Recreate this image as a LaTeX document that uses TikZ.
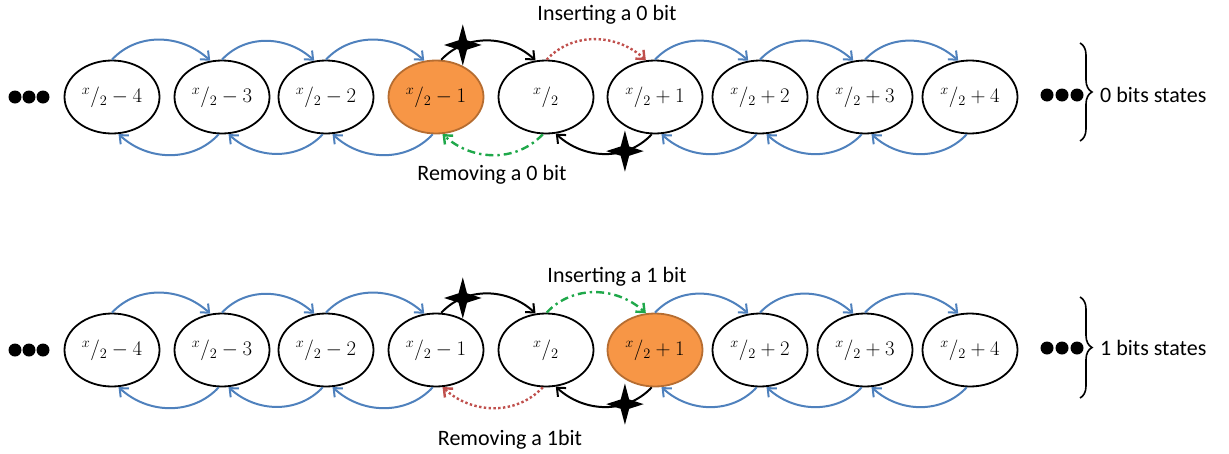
\documentclass[tikz,border=0pt]{standalone}
\usepackage{fontspec}
\setmainfont{Carlito}
\usetikzlibrary{shapes.geometric,arrows.meta,decorations.pathreplacing}

\definecolor{flowblue}{HTML}{4F81BD}
\definecolor{hotorange}{HTML}{F79646}
\definecolor{orangeedge}{HTML}{B66D31}
\definecolor{insred}{HTML}{C0504D}
\definecolor{remgreen}{HTML}{1FA84A}

\tikzset{
  state/.style={ellipse, draw=black, line width=1.8pt, minimum width=95pt,
    minimum height=73pt, inner sep=0pt, font=\fontsize{22}{26}\selectfont},
  hot/.style={state, fill=hotorange, draw=orangeedge},
  barb/.style={-{Straight Barb[length=7pt,width=12pt]}},
  blueflow/.style={barb, draw=flowblue, line width=2pt},
  blackflow/.style={barb, draw=black, line width=2pt},
  redflow/.style={barb, draw=insred, line width=2.4pt, dash pattern=on 2.4pt off 2.4pt},
  greenflow/.style={barb, draw=remgreen, line width=2.4pt,
    dash pattern=on 8pt off 4pt on 2.4pt off 4pt},
  starmark/.style={star, star points=4, star point ratio=0.32, fill=black,
    draw=none, minimum size=12pt, inner sep=0pt, shape border rotate=45,
    yscale=1.1},
  dot/.style={circle, fill=black, minimum size=13pt, inner sep=0pt},
  label/.style={font=\fontsize{22}{26}\selectfont, inner sep=0pt},
  bracket/.style={draw=black, line width=1.6pt, decorate,
    decoration={brace, amplitude=12pt}},
  % upper and lower arcs between neighbouring states
  fwd/.style={out=47, in=137},
  bwd/.style={out=227, in=317}
}

\newcommand{\half}[1]{${}^{x}/_{2}#1$}

\begin{document}
\begin{tikzpicture}[x=1pt, y=1pt]
\useasboundingbox (0,0) rectangle (1229,-453);

% ---------- row of states holding 0 bits ----------
\foreach \i/\x/\t in {1/112/{-4}, 2/222/{-3}, 3/326/{-2}, 5/546/{}, 6/655/{+1},
                      7/760/{+2}, 8/865/{+3}, 9/970/{+4}} {
  \node[state] (t\i) at (\x,-97) {\half{\t}};
}
\node[hot] (t4) at (436,-97) {\half{-1}};

\node[dot] (tl1) at (15,-97) {};
\node[dot] (tl2) at (29,-97) {};
\node[dot] (tl3) at (43,-97) {};
\node[dot] (tr1) at (1047,-95) {};
\node[dot] (tr2) at (1062,-95) {};
\node[dot] (tr3) at (1077,-95) {};
\coordinate (tbA) at (1080,-43);
\coordinate (tbB) at (1080,-141);
\draw[bracket] (tbA) -- (tbB);
\node[label, anchor=west] (tstates) at (1100,-95) {0 bits states};

\foreach \a/\b in {1/2, 2/3, 3/4, 6/7, 7/8, 8/9} {
  \draw[blueflow] (t\a.90) to[fwd] (t\b.108);
  \draw[blueflow] (t\b.265) to[bwd] (t\a.280);
}
\draw[blackflow] (t4.82) to[fwd] node[pos=0.25, starmark] (ts1) {} (t5.106);
\draw[redflow] (t5.89) to[fwd] (t6.104);
\draw[blackflow] (t6.265) to[bwd] node[pos=0.3, starmark] (ts2) {} (t5.285);
\draw[greenflow] (t5.265) to[bwd] (t4.280);

\node[label] (tins) at (607,-15) {Inserting a 0 bit};
\node[label] (trem) at (492,-175) {Removing a 0 bit};

% ---------- row of states holding 1 bits ----------
\foreach \i/\x/\t in {1/112/{-4}, 2/222/{-3}, 3/326/{-2}, 4/436/{-1}, 5/546/{},
                      7/760/{+2}, 8/865/{+3}, 9/970/{+4}} {
  \node[state] (b\i) at (\x,-350) {\half{\t}};
}
\node[hot] (b6) at (655,-350) {\half{+1}};

\node[dot] (bl1) at (15,-350) {};
\node[dot] (bl2) at (29,-350) {};
\node[dot] (bl3) at (43,-350) {};
\node[dot] (br1) at (1047,-348) {};
\node[dot] (br2) at (1062,-348) {};
\node[dot] (br3) at (1077,-348) {};
\coordinate (bbA) at (1080,-297);
\coordinate (bbB) at (1080,-398);
\draw[bracket] (bbA) -- (bbB);
\node[label, anchor=west] (bstates) at (1100,-348) {1 bits states};

\foreach \a/\b in {1/2, 2/3, 3/4, 6/7, 7/8, 8/9} {
  \draw[blueflow] (b\a.90) to[fwd] (b\b.108);
  \draw[blueflow] (b\b.265) to[bwd] (b\a.280);
}
\draw[blackflow] (b4.82) to[fwd] node[pos=0.25, starmark] (bs1) {} (b5.106);
\draw[greenflow] (b5.89) to[fwd] (b6.104);
\draw[blackflow] (b6.265) to[bwd] node[pos=0.3, starmark] (bs2) {} (b5.285);
\draw[redflow] (b5.265) to[bwd] (b4.280);

\node[label] (bins) at (617,-277) {Inserting a 1 bit};
\node[label] (brem) at (510,-440) {Removing a 1bit};
\end{tikzpicture}
\end{document}
